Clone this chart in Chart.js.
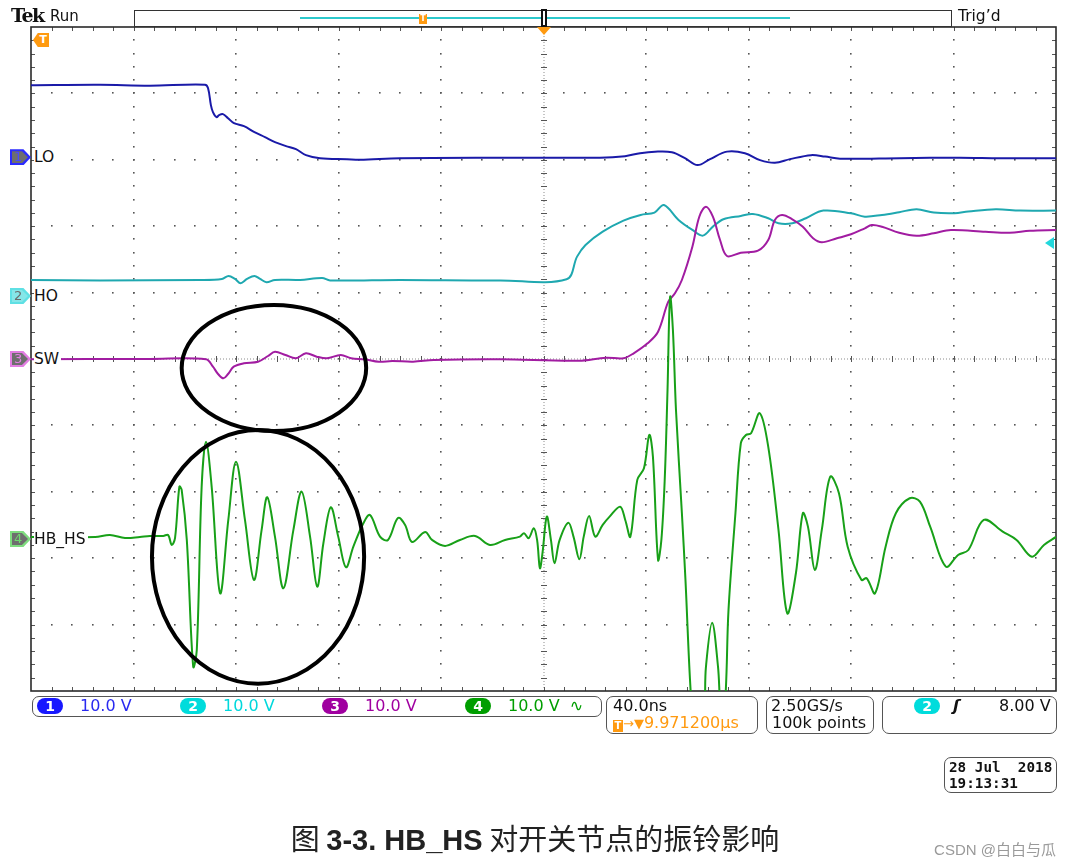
<!DOCTYPE html>
<html>
<head>
<meta charset="utf-8">
<script src="https://cdn.jsdelivr.net/npm/chart.js"></script>
<style>
  html, body { margin: 0; padding: 0; background: #fff; }
  #wrap { position: relative; width: 1070px; height: 867px; overflow: hidden; font-family: "DejaVu Sans", sans-serif; color: #111; }
  #scope { position: absolute; left: 0; top: 0; }
  .abs { position: absolute; white-space: pre; }
  .box { position: absolute; box-sizing: border-box; border: 1.6px solid #555; border-radius: 7px; }
  .st { position: absolute; white-space: pre; font-size: 16px; line-height: 18px; }
  .badge { position: absolute; width: 26px; height: 16px; border-radius: 8px; color: #fff; font-size: 14px; line-height: 16px; text-align: center; font-weight: bold; }
  .chm { position: absolute; left: 10px; width: 21px; height: 16px; clip-path: polygon(0 0, 64% 0, 100% 50%, 64% 100%, 0 100%); }
  .chm > div { position: absolute; left: 2px; top: 2px; width: 16px; height: 12px; clip-path: polygon(0 0, 62% 0, 100% 50%, 62% 100%, 0 100%); font-size: 13px; line-height: 12px; padding-left: 2px; box-sizing: border-box; }
  .chl { position: absolute; left: 34px; background: #fff; font-size: 15.5px; line-height: 18px; padding-right: 2px; white-space: pre; }
</style>
</head>
<body>
<div id="wrap">
  <canvas id="scope" width="1070" height="867" style="width:1070px;height:867px"></canvas>

  <!-- top status -->
  <div class="abs" style="left:11px;top:4px;font:bold 19px 'DejaVu Serif';letter-spacing:-1.5px">Tek</div>
  <div class="abs" style="left:50px;top:7px;font-size:15px">Run</div>
  <div class="abs" style="left:134px;top:10px;width:818px;height:17px;box-sizing:border-box;border:1.5px solid #333"></div>
  <div class="abs" style="left:300px;top:17px;width:490px;height:1.5px;background:#2cc9cc"></div>
  <div class="abs" style="left:419px;top:14px;width:8px;height:10px;background:#ff9a10;color:#fff;font:bold 8px 'DejaVu Sans';line-height:10px;text-align:center">T</div>
  <div class="abs" style="left:541px;top:9px;width:6px;height:18px;box-sizing:border-box;border:2px solid #111;background:#fff"></div>
  <div class="abs" style="left:958px;top:7px;font-size:15.5px">Trig’d</div>
  <div class="abs" style="left:537px;top:27px;width:0;height:0;border-left:7px solid transparent;border-right:7px solid transparent;border-top:8px solid #ff9a10"></div>
  <div class="abs" style="left:33px;top:33px;width:16px;height:14px;background:#ff9a10;clip-path:polygon(30% 0,100% 0,100% 100%,30% 100%,0 50%);color:#fff;font:bold 11px 'DejaVu Sans';line-height:14px;text-align:right;padding-right:2px;box-sizing:border-box">T</div>
  <div id="trigLvl" class="abs" style="left:1045px;width:0;height:0;border-top:6px solid transparent;border-bottom:6px solid transparent;border-right:9px solid #22d8dc"></div>

  <!-- bottom status -->
  <div class="box" style="left:32px;top:696px;width:570px;height:21px"></div>
  <div class="box" style="left:606px;top:696px;width:152px;height:38px"></div>
  <div class="st" style="left:613px;top:697px">40.0ns</div>
  <div class="st" style="left:613px;top:714px;color:#ff9a10"><span style="display:inline-block;width:10px;height:12px;background:#ff9a10;color:#fff;font:bold 10px 'DejaVu Sans';line-height:12px;text-align:center;vertical-align:-1px">T</span><span style="font-size:13px">→▼</span>9.971200µs</div>
  <div class="box" style="left:766px;top:696px;width:108px;height:38px"></div>
  <div class="st" style="left:771px;top:697px">2.50GS/s</div>
  <div class="st" style="left:772px;top:714px">100k points</div>
  <div class="box" style="left:882px;top:696px;width:175px;height:38px"></div>
  <div class="badge" style="left:914px;top:698px;background:#00dcdc">2</div>
  <div class="st" style="left:953px;top:697px;font-weight:bold;font-style:italic">ʃ</div>
  <div class="st" style="left:999px;top:697px">8.00 V</div>

  <div class="box" style="left:944px;top:757px;width:113px;height:36px"></div>
  <div class="abs" style="left:949px;top:759px;font:bold 14.3px 'DejaVu Sans Mono';line-height:16px">28 Jul  2018
19:13:31</div>

  <div class="abs" style="left:0;top:819px;width:1070px;text-align:center;font-family:'Noto Sans CJK SC';font-size:29px;line-height:36px;color:#222">图 <b style="font-family:'Liberation Sans'">3-3. HB_HS</b> 对开关节点的振铃影响</div>
  <div class="abs" style="right:14px;top:840px;font-family:'Liberation Sans','Noto Sans CJK SC';font-size:15px;line-height:20px;color:#9a9a9a">CSDN @白白与瓜</div>
</div>

<script>
// scope settings
const nsPerDiv = 40;
const voltsPerDiv = 10;
const channelNames = ["LO", "HO", "SW", "HB_HS"];
const channelColors = ["#1a1aa8", "#1fa8b0", "#a11ca1", "#18a018"];
const markerDiv = [3.04, 0.95, 0, -2.71]; // ground marker of each channel, in divisions from centre
const trigLevelV = 8.0;
const trigChannel = 1;

// ch1 LO (ns, V)
const loTime = [-200, -173, -153.6, -132.1, -130.9, -129.8, -129.0, -127.6, -126.6, -125.1, -123.1, -120.8, -116.9, -112.8, -108.7, -104.8, -100.5, -96.6, -92.7, -87.2, -76.7, -71.6, -56.0, -17.0, 22.0, 31.8, 37.7, 43.5, 50.1, 55.2, 60.1, 65.0, 71.6, 78.6, 84.5, 90.3, 96.2, 104.4, 109.9, 115.7, 139.1, 162.5, 178.1, 200];
const loVolts = [10.84, 10.9, 10.77, 10.92, 10.39, 7.83, 6.78, 6.02, 6.33, 6.48, 5.87, 5.12, 4.67, 3.77, 3.01, 2.26, 1.66, 1.20, 0.30, -0.15, -0.30, -0.38, -0.15, -0.08, -0.08, 0.15, 0.60, 0.83, 0.75, -0.15, -1.20, -0.30, 0.83, 0.60, -0.45, -0.86, -0.30, 0.30, 0.08, -0.23, -0.15, -0.08, -0.15, -0.15];

// ch2 HO
const hoTime = [-200, -173.1, -134.1, -125.5, -122.9, -120.4, -118.2, -115.7, -112.8, -110.6, -108.1, -104.8, -95.0, -86.4, -83.3, -56, -17, 9.0, 13.1, 16.4, 23.1, 31.2, 37.9, 43.3, 47.0, 52.7, 58.1, 62.2, 66.1, 70.2, 77.0, 81.7, 87.7, 91.7, 97.1, 102.4, 109.2, 120.0, 125.4, 132.1, 138.8, 145.6, 152.3, 160.4, 165.7, 176.5, 186.0, 200];
const hoVolts = [2.41, 2.33, 2.41, 2.56, 3.01, 2.56, 1.91, 2.56, 3.01, 2.56, 2.06, 2.41, 2.41, 2.71, 2.33, 2.41, 2.33, 2.52, 5.92, 7.68, 9.68, 11.34, 12.20, 12.55, 13.70, 11.45, 9.94, 9.08, 10.44, 11.55, 12.05, 12.35, 11.70, 10.95, 10.95, 11.70, 12.85, 12.45, 11.94, 12.20, 12.61, 13.06, 12.55, 12.45, 12.70, 13.06, 12.85, 12.85];

// ch3 SW
const swTime = [-200, -153.6, -131.7, -129.0, -127.0, -124.9, -123.1, -120.9, -116.9, -111.4, -107.5, -104.8, -100.7, -96.6, -92.7, -88.5, -84.5, -79.1, -75.1, -69.7, -64.3, -59.0, -50.9, -42.8, -17.0, 13.7, 24.4, 31.2, 35.2, 40.6, 44.7, 48.7, 51.3, 54.0, 58.1, 60.8, 63.4, 66.1, 68.9, 71.6, 77.0, 83.7, 87.7, 90.3, 93.1, 97.1, 101.2, 105.2, 108.6, 114.5, 120.0, 125.4, 128.1, 132.1, 138.8, 145.6, 152.3, 159.0, 172.5, 181.9, 189.8, 200];
const swVolts = [-0.05, 0, -0.05, -1.16, -2.26, -2.91, -2.26, -1.16, -0.65, -0.41, 0.45, 1.10, 0.60, 0.11, 0.86, 0.35, 0.11, 0.60, 0.11, -0.05, -0.41, -0.30, -0.41, -0.15, -0.05, -0.26, 0.20, 0.11, 0.86, 2.36, 4.11, 8.63, 9.89, 11.90, 16.91, 21.43, 22.94, 21.43, 17.92, 15.51, 16.01, 16.31, 17.92, 20.93, 21.69, 21.04, 19.92, 18.18, 17.58, 18.18, 18.78, 19.68, 20.18, 19.92, 19.02, 18.57, 18.93, 19.43, 19.17, 19.02, 19.32, 19.43];

// ch4 HB_HS
const hbTime = [-200, -175, -169.2, -163.3, -157.5, -153.6, -148.4, -146.5, -145.1, -143.8,
  -142.1, -141.2, -139.2, -136.7, -135.3, -133.4, -131.7, -129.5, -126.2, -123.0,
  -120.0, -116.5, -113.0, -110.0, -107.8, -104.8, -101.5, -97.6, -94.4, -91.1,
  -88.3, -85.9, -83.0, -80.1, -77.1, -74.2, -70.3, -67.7, -63.8, -60.7,
  -56.8, -54.0, -51.3, -46.2, -43.5, -38.4, -32.6, -26.7, -20.9, -15.0,
  -9.2, -7.6, -5.8, -3.8, -2.5, -1.4, -0.4, 1.3, 2.9, 4.3,
  6.3, 9.7, 11.7, 14.0, 15.7, 17.8, 20.2, 23.1, 25.8, 29.9,
  31.9, 33.9, 36.6, 39.2, 41.3, 42.7, 44.7, 46.0, 47.3, 48.4,
  49.4, 50.5, 51.7, 54.0, 55.4, 57.4, 58.7, 62.2, 63.4, 65.8,
  68.1, 69.3, 70.8, 72.2, 74.9, 77.0, 79.0, 81.0, 84.4, 87.7,
  91.7, 95.1, 98.5, 101.2, 103.2, 105.9, 108.6, 111.9, 115.3, 118.7,
  124.1, 126.1, 129.4, 133.5, 137.5, 142.9, 146.9, 150.9, 157.0, 161.8,
  165.8, 171.8, 179.2, 184.6, 190.6, 195.3, 200];
const hbVolts = [0.30, 0.30, 0.60, 0.15, 0.30, 0.45, 0.45, 0.60, -0.90, 0.11,
  7.88, 7.38, -0.15, -19.23, -16.72, 7.88, 14.65, 7.88, -8.18, 2.86,
  11.64, 2.86, -6.17, 1.36, 6.28, 0.35, -7.42, 1.36, 7.12, 0.35,
  -7.18, -0.65, 4.77, 0.35, -4.26, -1.16, 2.36, 3.61, 0.35, -0.15,
  3.16, 2.11, -0.45, 1.05, -0.15, -1.05, -0.15, 0.45, -0.90, -0.15,
  0.35, 0.86, 0.11, 1.61, -0.15, -4.41, -2.15, 3.36, -0.15, -3.66,
  -0.15, 2.45, 0.35, -3.06, 0.35, 3.46, 0.35, 2.11, 3.36, 4.86,
  2.86, 0.35, 8.89, 10.65, 15.66, 12.39, -3.16, -0.15, 8.89, 22.44,
  36.45, 31.48, 19.43, 3.92, -6.17, -22.74, -27.26, -27.26, -19.23, -12.61,
  -19.23, -25.75, -25.0, -10.69, 3.87, 14.41, 15.66, 15.92, 18.93, 13.90,
  1.36, -11.19, -5.17, 3.87, 1.85, -4.67, 1.36, 9.38, 6.88, -1.16,
  -6.17, -5.92, -8.18, -1.16, 3.87, 6.13, 5.62, 1.85, -4.17, -2.41,
  -1.66, 2.86, 1.10, -0.15, -2.67, -0.90, 0.30];

const traceTimes = [loTime, hoTime, swTime, hbTime];
const traceVolts = [loVolts, hoVolts, swVolts, hbVolts];

// hand-drawn rings on the screenshot (channel, centre ns / V, half widths)
const rings = [
  { ch: 2, t: -105.2, v: -1.36, halfT: 36.0, halfV: 9.5 },
  { ch: 3, t: -111.4, v: -2.7, halfT: 41.4, halfV: 19.1 },
];

const zip = (ts, vs) => {
  if (ts.length !== vs.length) console.warn("length mismatch", ts.length, vs.length);
  return ts.map((t, i) => ({ x: t, y: vs[i] }));
};

const graticule = {
  id: "graticule",
  beforeDatasetsDraw(chart) {
    const { ctx, chartArea: a } = chart;
    const w = a.right - a.left, h = a.bottom - a.top;
    const stepX = w / 50, stepY = h / 50;
    const cx = Math.round(a.left + w / 2), cy = Math.round(a.top + h / 2);
    ctx.save();

    // dotted division lines
    ctx.fillStyle = "#555";
    for (let i = 1; i < 10; i++) {
      if (i === 5) continue;
      const gx = Math.round(a.left + (i * w) / 10), gy = Math.round(a.top + (i * h) / 10);
      for (let k = 1; k < 50; k++) {
        ctx.fillRect(gx - 1, Math.round(a.top + k * stepY) - 1, 1.6, 1.6);
        ctx.fillRect(Math.round(a.left + k * stepX) - 1, gy - 1, 1.6, 1.6);
      }
    }

    // centre cross
    ctx.fillStyle = "#8c8c8c";
    for (let x = a.left; x < a.right; x += 3) ctx.fillRect(Math.round(x), cy - 0.5, 1, 1);
    for (let y = a.top; y < a.bottom; y += 3) ctx.fillRect(cx - 0.5, Math.round(y), 1, 1);

    ctx.strokeStyle = "#555";
    ctx.lineWidth = 1;
    ctx.beginPath();
    for (let k = 1; k < 50; k++) {
      const x = Math.round(a.left + k * stepX) + 0.5;
      const y = Math.round(a.top + k * stepY) + 0.5;
      ctx.moveTo(x, cy - 3); ctx.lineTo(x, cy + 3);
      ctx.moveTo(cx - 3, y); ctx.lineTo(cx + 3, y);
      ctx.moveTo(x, a.top); ctx.lineTo(x, a.top + 4);
      ctx.moveTo(x, a.bottom); ctx.lineTo(x, a.bottom - 4);
      ctx.moveTo(a.left, y); ctx.lineTo(a.left + 4, y);
      ctx.moveTo(a.right, y); ctx.lineTo(a.right - 4, y);
    }
    ctx.stroke();

    ctx.strokeStyle = "#2a2a2a";
    ctx.lineWidth = 1.6;
    ctx.strokeRect(a.left, a.top, w, h);
    ctx.restore();
  },
};

const ringPlugin = {
  id: "rings",
  afterDatasetsDraw(chart) {
    const { ctx } = chart;
    const xs = chart.scales.x;
    ctx.save();
    ctx.strokeStyle = "#000";
    ctx.lineWidth = 4;
    rings.forEach((r) => {
      const ys = chart.scales["ch" + (r.ch + 1)];
      const px = xs.getPixelForValue(r.t), py = ys.getPixelForValue(r.v);
      const rx = xs.getPixelForValue(r.t + r.halfT) - px;
      const ry = py - ys.getPixelForValue(r.v + r.halfV);
      ctx.beginPath();
      ctx.ellipse(px, py, rx, ry, 0, 0, Math.PI * 2);
      ctx.stroke();
    });
    ctx.restore();
  },
};

const scales = {
  x: { type: "linear", min: -5 * nsPerDiv, max: 5 * nsPerDiv, display: false },
};
markerDiv.forEach((off, i) => {
  scales["ch" + (i + 1)] = {
    type: "linear",
    display: false,
    min: (-5 - off) * voltsPerDiv,
    max: (5 - off) * voltsPerDiv,
  };
});

const chart = new Chart(document.getElementById("scope"), {
  type: "line",
  data: {
    datasets: channelNames.map((name, i) => ({
      label: name,
      data: zip(traceTimes[i], traceVolts[i]),
      yAxisID: "ch" + (i + 1),
      borderColor: channelColors[i],
      borderWidth: 2,
      pointRadius: 0,
      fill: false,
      tension: 0.35,
      order: channelNames.length - i,
    })),
  },
  options: {
    responsive: false,
    animation: false,
    layout: { padding: { left: 31, top: 27, right: 14, bottom: 176 } },
    plugins: { legend: { display: false }, tooltip: { enabled: false } },
    scales: scales,
  },
  plugins: [graticule, ringPlugin],
});

// channel markers, labels and the readouts in the bottom bar
const wrap = document.getElementById("wrap");
const markerStyle = [
  { edge: "#2b2bff", fill: "#6e6e6e", text: "#4a4aff" },
  { edge: "#5fe0e4", fill: "#86e6e8", text: "#6a6a6a" },
  { edge: "#e27ee2", fill: "#6e6e6e", text: "#e27ee2" },
  { edge: "#7fdc7f", fill: "#6e6e6e", text: "#6fd86f" },
];
const badgeColors = ["#1818ff", "#00dcdc", "#a000a0", "#009e00"];
const readoutColors = ["#2a2af0", "#00d8dc", "#a000a0", "#009e00"];
const badgeLeft = [37, 180, 322, 465];

channelNames.forEach((name, i) => {
  const y = chart.scales["ch" + (i + 1)].getPixelForValue(0);
  const m = document.createElement("div");
  m.className = "chm";
  m.style.top = y - 8 + "px";
  m.style.background = markerStyle[i].edge;
  const inner = document.createElement("div");
  inner.style.background = markerStyle[i].fill;
  inner.style.color = markerStyle[i].text;
  inner.textContent = String(i + 1);
  m.appendChild(inner);
  wrap.appendChild(m);

  const l = document.createElement("div");
  l.className = "chl";
  l.style.top = y - 9 + "px";
  l.textContent = name;
  wrap.appendChild(l);

  const b = document.createElement("div");
  b.className = "badge";
  b.style.left = badgeLeft[i] + "px";
  b.style.top = "698px";
  b.style.background = badgeColors[i];
  b.textContent = String(i + 1);
  wrap.appendChild(b);

  const r = document.createElement("div");
  r.className = "st";
  r.style.left = badgeLeft[i] + 43 + "px";
  r.style.top = "697px";
  r.style.color = readoutColors[i];
  r.textContent = voltsPerDiv.toFixed(1) + " V" + (i === 3 ? "  ∿" : "");
  wrap.appendChild(r);
});

const lvlY = chart.scales["ch" + (trigChannel + 1)].getPixelForValue(trigLevelV);
document.getElementById("trigLvl").style.top = lvlY - 6 + "px";
</script>
</body>
</html>
